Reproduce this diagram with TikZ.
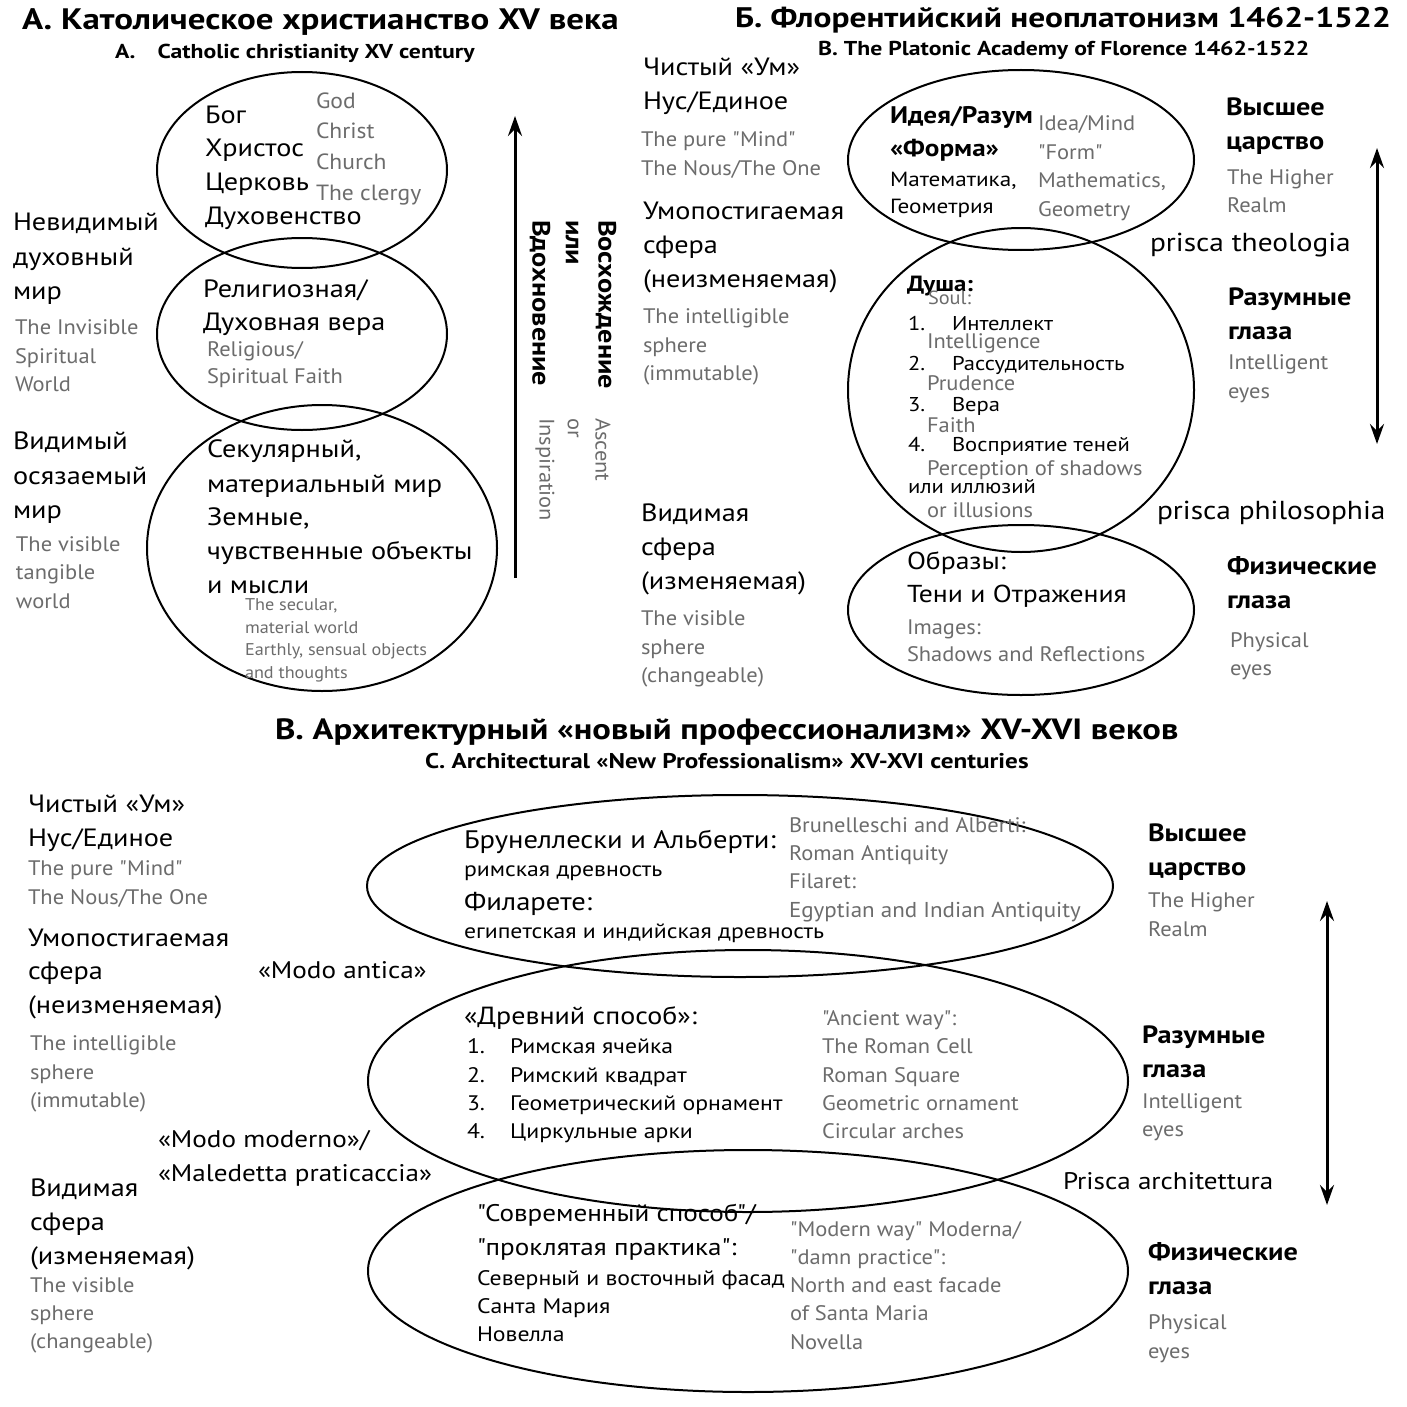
\documentclass[tikz,border=0pt]{standalone}
\usepackage{fontspec}
\setmainfont{PT Sans}[Ligatures=TeXOff]
\newfontfamily\ru{PT Sans}[Ligatures=TeXOff, FakeStretch=1.13]
\newfontfamily\en{PT Sans}[Ligatures=TeXOff, FakeStretch=1.07]
\newfontfamily\hd{PT Sans}[Ligatures=TeXOff, FakeStretch=1.18]
\usetikzlibrary{arrows.meta}
\definecolor{eng}{RGB}{108,108,108}
\tikzset{
  t/.style={anchor=base west, inner sep=0pt, outer sep=0pt, text=black, execute at begin node=\ru},
  g/.style={t, text=eng, execute at begin node=\en},
  fs/.style={font=\fontsize{#1}{#1}\selectfont, yshift=-0.35*#1pt},
  rot/.style={rotate=-90, anchor=west, inner sep=0pt, outer sep=0pt},
  ell/.style={line width=2pt},
  arr/.style={line width=3pt, -{Stealth[length=20pt,width=14pt,inset=7pt]}},
  darr/.style={line width=3pt, {Stealth[length=20pt,width=14pt,inset=7pt]}-{Stealth[length=20pt,width=14pt,inset=7pt]}},
}
\begin{document}
\begin{tikzpicture}[x=1pt,y=-1pt]
\useasboundingbox (0,0) rectangle (1406,1407);
\fill[white] (0,0) rectangle (1406,1407);
% ================= Section A =================
\node[t,fs=29.6] (Atitle) at (22,19) {\hd\bfseries А. Католическое христианство XV века};
\node[t,fs=20.1] (Asub) at (115,51) {\hd\bfseries А.\hspace{1.1em}Catholic christianity XV century};
\draw[ell] (302,170) ellipse [x radius=145, y radius=98];
\draw[ell] (302,334) ellipse [x radius=145, y radius=96];
\draw[ell] (322,548) ellipse [x radius=175, y radius=143];
\node[t,fs=25] (A1) at (205,115) {Бог};
\node[t,fs=25] (A2) at (205,148) {Христос};
\node[t,fs=25] (A3) at (205,182) {Церковь};
\node[t,fs=25] (A4) at (205,216) {Духовенство};
\node[g,fs=22] (A1e) at (316,101) {God};
\node[g,fs=22] (A2e) at (316,131) {Christ};
\node[g,fs=22] (A3e) at (316,162) {Church};
\node[g,fs=22] (A4e) at (316,193) {The clergy};
\node[t,fs=25] (A5) at (13,222) {Невидимый};
\node[t,fs=25] (A6) at (13,257) {духовный};
\node[t,fs=25] (A7) at (13,291) {мир};
\node[g,fs=21] (A5e) at (15,327) {The Invisible};
\node[g,fs=21] (A6e) at (15,356) {Spiritual};
\node[g,fs=21] (A7e) at (15,384) {World};
\node[t,fs=25] (A8) at (203,289) {Религиозная/};
\node[t,fs=25] (A9) at (203,322) {Духовная вера};
\node[g,fs=21] (A8e) at (207,349) {Religious/};
\node[g,fs=21] (A9e) at (207,376) {Spiritual Faith};
\node[t,fs=25] (A10) at (13,441) {Видимый};
\node[t,fs=25] (A11) at (13,476) {осязаемый};
\node[t,fs=25] (A12) at (13,510) {мир};
\node[g,fs=21] (A10e) at (16,544) {The visible};
\node[g,fs=21] (A11e) at (16,572) {tangible};
\node[g,fs=21] (A12e) at (16,601) {world};
\node[t,fs=25] (A13) at (207,449) {Секулярный,};
\node[t,fs=25] (A14) at (207,484) {материальный мир};
\node[t,fs=25] (A15) at (207,517) {Земные,};
\node[t,fs=25] (A16) at (207,551) {чувственные объекты};
\node[t,fs=25] (A17) at (207,585) {и мысли};
\node[g,fs=17] (A13e) at (245,605) {The secular,};
\node[g,fs=17] (A14e) at (245,628) {material world};
\node[g,fs=17] (A15e) at (245,650) {Earthly, sensual objects};
\node[g,fs=17] (A16e) at (245,673) {and thoughts};
\coordinate (Aa0) at (515,578);
\coordinate (Aa1) at (515,116);
\draw[arr] (Aa0) -- (Aa1);
\node[rot,font=\fontsize{25}{25}\selectfont\ru\bfseries] (Ar1) at (606,220) {Восхождение};
\node[rot,font=\fontsize{25}{25}\selectfont\ru\bfseries] (Ar2) at (572,220) {или};
\node[rot,font=\fontsize{25}{25}\selectfont\ru\bfseries] (Ar3) at (540,220) {Вдохновение};
\node[rot,font=\fontsize{21}{21}\selectfont\en,text=eng] (Ar1e) at (603,418) {Ascent};
\node[rot,font=\fontsize{21}{21}\selectfont\en,text=eng] (Ar2e) at (573,418) {or};
\node[rot,font=\fontsize{21}{21}\selectfont\en,text=eng] (Ar3e) at (545,418) {Inspiration};
% ================= Section B =================
\node[t,fs=28.3] (Btitle) at (735,18) {\hd\bfseries Б. Флорентийский неоплатонизм 1462-1522};
\node[t,fs=20.1] (Bsub) at (818,48) {\hd\bfseries B. The Platonic Academy of Florence 1462-1522};
\node[t,fs=25] (B1) at (643,67) {Чистый «Ум»};
\node[t,fs=25] (B2) at (643,101) {Нус/Единое};
\node[g,fs=21] (B1e) at (641,139) {The pure "Mind"};
\node[g,fs=21] (B2e) at (641,168) {The Nous/The One};
\node[t,fs=25] (B3) at (643,211) {Умопостигаемая};
\node[t,fs=25] (B4) at (643,245) {сфера};
\node[t,fs=25] (B5) at (643,279) {(неизменяемая)};
\node[g,fs=21] (B3e) at (643,316) {The intelligible};
\node[g,fs=21] (B4e) at (643,345) {sphere};
\node[g,fs=21] (B5e) at (643,373) {(immutable)};
\node[t,fs=25] (B6) at (641,513) {Видимая};
\node[t,fs=25] (B7) at (641,547) {сфера};
\node[t,fs=25] (B8) at (641,581) {(изменяемая)};
\node[g,fs=21] (B6e) at (641,618) {The visible};
\node[g,fs=21] (B7e) at (641,647) {sphere};
\node[g,fs=21] (B8e) at (641,675) {(changeable)};
\draw[ell] (1021,160) ellipse [x radius=173, y radius=90];
\draw[ell] (1021,390) ellipse [x radius=173, y radius=162];
\draw[ell] (1021,610) ellipse [x radius=173, y radius=85];
\node[t,fs=24] (B9) at (890,115) {\bfseries Идея/Разум};
\node[t,fs=24] (B10) at (890,148) {\bfseries «Форма»};
\node[t,fs=20.5] (B11) at (890,179) {Математика,};
\node[t,fs=20.5] (B12) at (890,206) {Геометрия};
\node[g,fs=21] (B9e) at (1038,123) {Idea/Mind};
\node[g,fs=21] (B10e) at (1038,152) {"Form"};
\node[g,fs=21] (B11e) at (1038,180) {Mathematics,};
\node[g,fs=21] (B12e) at (1038,209) {Geometry};
\node[t,fs=25] (B13) at (1226,107) {\bfseries Высшее};
\node[t,fs=25] (B14) at (1226,141) {\bfseries царство};
\node[g,fs=21] (B13e) at (1227,177) {The Higher};
\node[g,fs=21] (B14e) at (1227,205) {Realm};
\node[t,fs=26] (B15) at (1150,242) {prisca theologia};
\node[t,fs=22] (B16) at (907,284) {\bfseries Душа:};
\node[g,fs=19] (B16e) at (928,298) {Soul:};
\node[t,fs=20] (B17n) at (908,323) {1.};
\node[t,fs=20] (B17) at (952,323) {Интеллект};
\node[g,fs=21] (B17e) at (927,341) {Intelligence};
\node[t,fs=20] (B18n) at (908,363) {2.};
\node[t,fs=20] (B18) at (952,363) {Рассудительность};
\node[g,fs=21] (B18e) at (927,383) {Prudence};
\node[t,fs=20] (B19n) at (908,404) {3.};
\node[t,fs=20] (B19) at (952,404) {Вера};
\node[g,fs=21] (B19e) at (927,425) {Faith};
\node[t,fs=20] (B20n) at (908,444) {4.};
\node[t,fs=20] (B20) at (952,444) {Восприятие теней};
\node[g,fs=21] (B20e) at (927,468) {Perception of shadows};
\node[t,fs=20] (B21) at (908,486) {или иллюзий};
\node[g,fs=21] (B21e) at (927,510) {or illusions};
\node[t,fs=25] (B22) at (1228,297) {\bfseries Разумные};
\node[t,fs=25] (B23) at (1228,331) {\bfseries глаза};
\node[g,fs=21] (B22e) at (1228,362) {Intelligent};
\node[g,fs=21] (B23e) at (1228,391) {eyes};
\node[t,fs=26] (B24) at (1157,510) {prisca philosophia};
\node[t,fs=24.5] (B25) at (907,561) {Образы:};
\node[t,fs=24.5] (B26) at (907,594) {Тени и Отражения};
\node[g,fs=21] (B25e) at (907,627) {Images:};
\node[g,fs=21] (B26e) at (907,654) {Shadows and Reflections};
\node[t,fs=25] (B27) at (1227,566) {\bfseries Физические};
\node[t,fs=25] (B28) at (1227,600) {\bfseries глаза};
\node[g,fs=21] (B27e) at (1230,640) {Physical};
\node[g,fs=21] (B28e) at (1230,668) {eyes};
\coordinate (Ba0) at (1377,148);
\coordinate (Ba1) at (1377,444);
\draw[darr] (Ba0) -- (Ba1);
% ================= Section C =================
\node[t,fs=29.3] (Ctitle) at (275,729) {\hd\bfseries В. Архитектурный «новый профессионализм» XV-XVI веков};
\node[t,fs=21.3] (Csub) at (425,761) {\hd\bfseries C. Architectural «New Professionalism» XV-XVI centuries};
\node[t,fs=25] (C1) at (28,804) {Чистый «Ум»};
\node[t,fs=25] (C2) at (28,838) {Нус/Единое};
\node[g,fs=21] (C1e) at (28,868) {The pure "Mind"};
\node[g,fs=21] (C2e) at (28,897) {The Nous/The One};
\node[t,fs=25] (C3) at (28,938) {Умопостигаемая};
\node[t,fs=25] (C4) at (28,971) {сфера};
\node[t,fs=25] (C5) at (28,1005) {(неизменяемая)};
\node[g,fs=21] (C3e) at (30,1043) {The intelligible};
\node[g,fs=21] (C4e) at (30,1072) {sphere};
\node[g,fs=21] (C5e) at (30,1100) {(immutable)};
\node[t,fs=25] (C6) at (30,1188) {Видимая};
\node[t,fs=25] (C7) at (30,1222) {сфера};
\node[t,fs=25] (C8) at (30,1256) {(изменяемая)};
\node[g,fs=21] (C6e) at (30,1285) {The visible};
\node[g,fs=21] (C7e) at (30,1313) {sphere};
\node[g,fs=21] (C8e) at (30,1341) {(changeable)};
\node[t,fs=24] (C9) at (258,970) {«Modo antica»};
\node[t,fs=24] (C10) at (158,1139) {«Modo moderno»/};
\node[t,fs=24] (C11) at (158,1173) {«Maledetta praticaccia»};
\draw[ell] (740,886) ellipse [x radius=373, y radius=91];
\draw[ell] (748,1081) ellipse [x radius=380, y radius=131];
\draw[ell] (748,1271) ellipse [x radius=380, y radius=121];
\node[t,fs=25.3] (C12) at (464,840) {Брунеллески и Альберти:};
\node[t,fs=21] (C13) at (464,869) {римская древность};
\node[t,fs=25.3] (C14) at (464,902) {Филарете:};
\node[t,fs=21] (C15) at (464,931) {египетская и индийская древность};
\node[g,fs=21] (C12e) at (789,825) {Brunelleschi and Alberti:};
\node[g,fs=21] (C13e) at (789,853) {Roman Antiquity};
\node[g,fs=21] (C14e) at (789,881) {Filaret:};
\node[g,fs=21.5] (C15e) at (789,910) {Egyptian and Indian Antiquity};
\node[t,fs=25] (C16) at (1148,833) {\bfseries Высшее};
\node[t,fs=25] (C17) at (1148,867) {\bfseries царство};
\node[g,fs=21] (C16e) at (1148,900) {The Higher};
\node[g,fs=21] (C17e) at (1148,929) {Realm};
\node[t,fs=24.8] (C18) at (464,1016) {«Древний способ»:};
\node[t,fs=21] (C19n) at (467,1046) {1.};
\node[t,fs=21] (C19) at (510,1046) {Римская ячейка};
\node[t,fs=21] (C20n) at (467,1075) {2.};
\node[t,fs=21] (C20) at (510,1075) {Римский квадрат};
\node[t,fs=21] (C21n) at (467,1103) {3.};
\node[t,fs=21] (C21) at (510,1103) {Геометрический орнамент};
\node[t,fs=21] (C22n) at (467,1131) {4.};
\node[t,fs=21] (C22) at (510,1131) {Циркульные арки};
\node[g,fs=21] (C18e) at (822,1018) {"Ancient way":};
\node[g,fs=21] (C19e) at (822,1046) {The Roman Cell};
\node[g,fs=21] (C20e) at (822,1075) {Roman Square};
\node[g,fs=21] (C21e) at (822,1103) {Geometric ornament};
\node[g,fs=21] (C22e) at (822,1131) {Circular arches};
\node[t,fs=25] (C23) at (1142,1035) {\bfseries Разумные};
\node[t,fs=25] (C24) at (1142,1069) {\bfseries глаза};
\node[g,fs=21] (C23e) at (1142,1101) {Intelligent};
\node[g,fs=21] (C24e) at (1142,1129) {eyes};
\node[t,fs=24] (C25) at (1063,1181) {Prisca architettura};
\node[t,fs=24] (C26) at (477,1213) {"Современный способ"/};
\node[t,fs=24] (C27) at (477,1247) {"проклятая практика":};
\node[t,fs=21] (C28) at (477,1278) {Северный и восточный фасад};
\node[t,fs=21] (C29) at (477,1306) {Санта Мария};
\node[t,fs=21] (C30) at (477,1334) {Новелла};
\node[g,fs=21] (C26e) at (790,1229) {"Modern way" Moderna/};
\node[g,fs=21] (C27e) at (790,1257) {"damn practice":};
\node[g,fs=21] (C28e) at (790,1285) {North and east facade};
\node[g,fs=21] (C29e) at (790,1313) {of Santa Maria};
\node[g,fs=21] (C30e) at (790,1342) {Novella};
\node[t,fs=25] (C31) at (1148,1252) {\bfseries Физические};
\node[t,fs=25] (C32) at (1148,1286) {\bfseries глаза};
\node[g,fs=21] (C31e) at (1148,1322) {Physical};
\node[g,fs=21] (C32e) at (1148,1351) {eyes};
\coordinate (Ca0) at (1327,901);
\coordinate (Ca1) at (1327,1205);
\draw[darr] (Ca0) -- (Ca1);
\end{tikzpicture}
\end{document}
